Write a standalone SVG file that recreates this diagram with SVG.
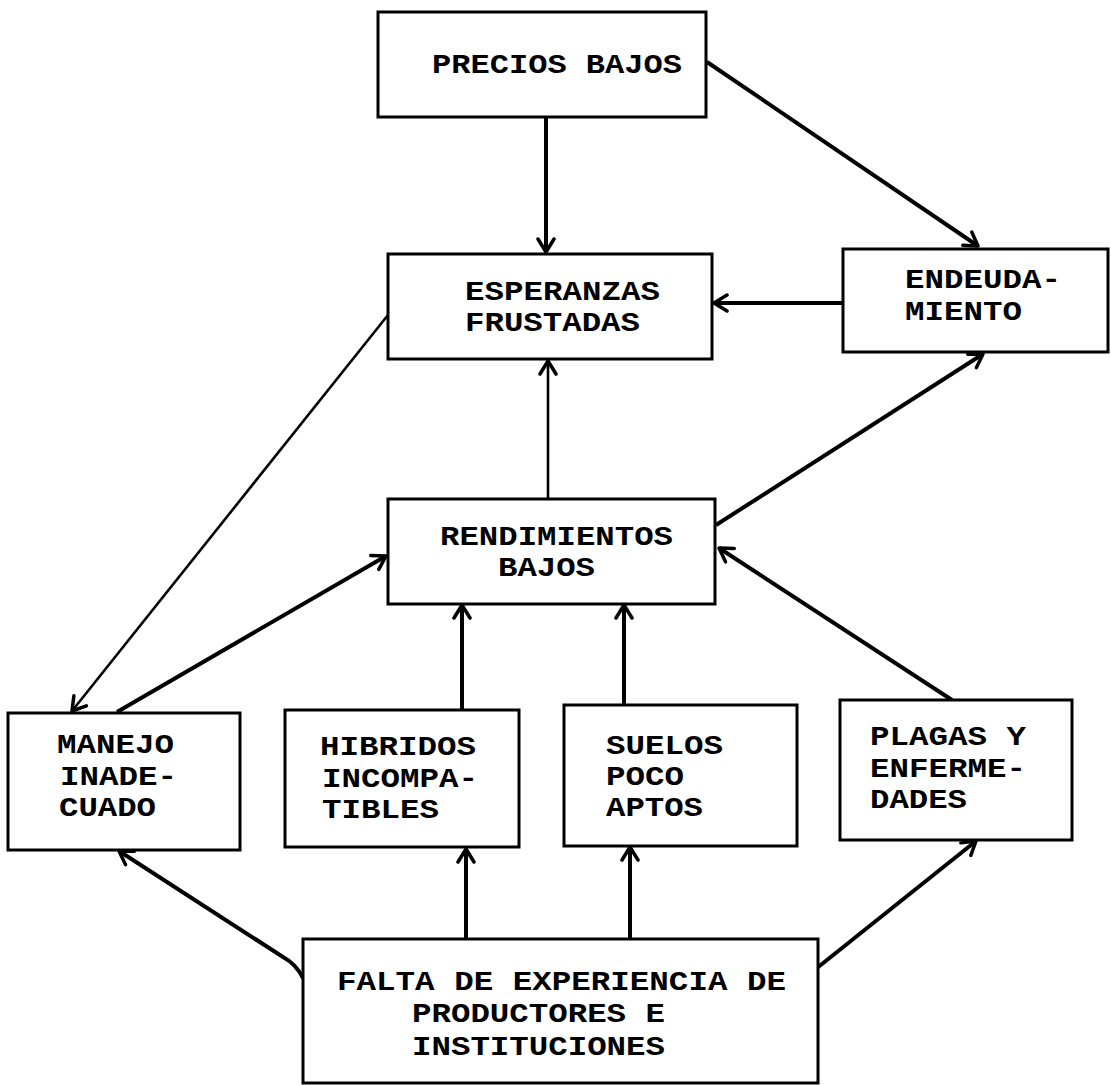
<svg xmlns="http://www.w3.org/2000/svg" width="1111" height="1085" viewBox="0 0 1111 1085">
<style>
.box{fill:#fff;stroke:#000;stroke-width:3}
.t{font-family:"Liberation Mono","Courier New",monospace;font-weight:bold;font-size:27px;fill:#000}
.c{fill:none;stroke:#000;stroke-width:4;marker-end:url(#ah)}
.thin{stroke-width:2.6}
</style>
<defs>
<marker id="ah" markerUnits="userSpaceOnUse" viewBox="-16 -10 18 20" markerWidth="18" markerHeight="20" refX="0" refY="0" orient="auto">
<path d="M-13 -8 L0 0 L-13 8" fill="none" stroke="#000" stroke-width="3.5" stroke-linecap="round" stroke-linejoin="round"/>
</marker>
</defs>
<rect width="1111" height="1085" fill="#fff"/>
<g id="connectors">
<line class="c" x1="546" y1="117" x2="546" y2="252"/>
<line class="c" x1="707" y1="62" x2="978" y2="246"/>
<line class="c" x1="843" y1="303" x2="714" y2="303"/>
<line class="c thin" x1="548" y1="499" x2="548" y2="361"/>
<line class="c" x1="716" y1="525" x2="983" y2="354"/>
<line class="c thin" x1="388" y1="315" x2="72" y2="711"/>
<line class="c" x1="117" y1="712" x2="386" y2="556"/>
<line class="c" x1="462" y1="710" x2="462" y2="605"/>
<line class="c" x1="624" y1="705" x2="624" y2="605"/>
<line class="c" x1="952" y1="700" x2="719" y2="548"/>
<path class="c" d="M303 978 Q296 964 283 957 L119 851"/>
<line class="c" x1="466" y1="939" x2="466" y2="849"/>
<line class="c" x1="630" y1="939" x2="630" y2="847"/>
<line class="c" x1="817" y1="968" x2="976" y2="841"/>
</g>
<g id="precios">
<rect class="box" x="378" y="12" width="328" height="105"/>
<text class="t" x="432" y="73" textLength="250" lengthAdjust="spacingAndGlyphs">PRECIOS BAJOS</text>
</g>
<g id="esperanzas">
<rect class="box" x="388" y="254" width="324" height="105"/>
<text class="t" x="465" y="300" textLength="195" lengthAdjust="spacingAndGlyphs">ESPERANZAS</text>
<text class="t" x="465" y="331" textLength="175" lengthAdjust="spacingAndGlyphs">FRUSTADAS</text>
</g>
<g id="endeudamiento">
<rect class="box" x="843" y="249" width="265" height="103"/>
<text class="t" x="905" y="288" textLength="156" lengthAdjust="spacingAndGlyphs">ENDEUDA-</text>
<text class="t" x="905" y="320" textLength="117" lengthAdjust="spacingAndGlyphs">MIENTO</text>
</g>
<g id="rendimientos">
<rect class="box" x="388" y="499" width="327" height="105"/>
<text class="t" x="440" y="545" textLength="233" lengthAdjust="spacingAndGlyphs">RENDIMIENTOS</text>
<text class="t" x="498" y="576" textLength="97" lengthAdjust="spacingAndGlyphs">BAJOS</text>
</g>
<g id="manejo">
<rect class="box" x="8" y="713" width="232" height="137"/>
<text class="t" x="57" y="753" textLength="117" lengthAdjust="spacingAndGlyphs">MANEJO</text>
<text class="t" x="60" y="785" textLength="117" lengthAdjust="spacingAndGlyphs">INADE-</text>
<text class="t" x="59" y="816" textLength="97" lengthAdjust="spacingAndGlyphs">CUADO</text>
</g>
<g id="hibridos">
<rect class="box" x="285" y="710" width="234" height="137"/>
<text class="t" x="320" y="755" textLength="156" lengthAdjust="spacingAndGlyphs">HIBRIDOS</text>
<text class="t" x="322" y="787" textLength="156" lengthAdjust="spacingAndGlyphs">INCOMPA-</text>
<text class="t" x="322" y="818" textLength="117" lengthAdjust="spacingAndGlyphs">TIBLES</text>
</g>
<g id="suelos">
<rect class="box" x="564" y="705" width="233" height="141"/>
<text class="t" x="606" y="754" textLength="117" lengthAdjust="spacingAndGlyphs">SUELOS</text>
<text class="t" x="606" y="785" textLength="78" lengthAdjust="spacingAndGlyphs">POCO</text>
<text class="t" x="606" y="816" textLength="97" lengthAdjust="spacingAndGlyphs">APTOS</text>
</g>
<g id="plagas">
<rect class="box" x="840" y="700" width="232" height="140"/>
<text class="t" x="870" y="745" textLength="156" lengthAdjust="spacingAndGlyphs">PLAGAS Y</text>
<text class="t" x="870" y="777" textLength="156" lengthAdjust="spacingAndGlyphs">ENFERME-</text>
<text class="t" x="870" y="808" textLength="97" lengthAdjust="spacingAndGlyphs">DADES</text>
</g>
<g id="falta">
<rect class="box" x="303" y="939" width="515" height="144"/>
<text class="t" x="337" y="990" textLength="449" lengthAdjust="spacingAndGlyphs">FALTA DE EXPERIENCIA DE</text>
<text class="t" x="412" y="1022" textLength="253" lengthAdjust="spacingAndGlyphs">PRODUCTORES E</text>
<text class="t" x="412" y="1055" textLength="253" lengthAdjust="spacingAndGlyphs">INSTITUCIONES</text>
</g>
</svg>
